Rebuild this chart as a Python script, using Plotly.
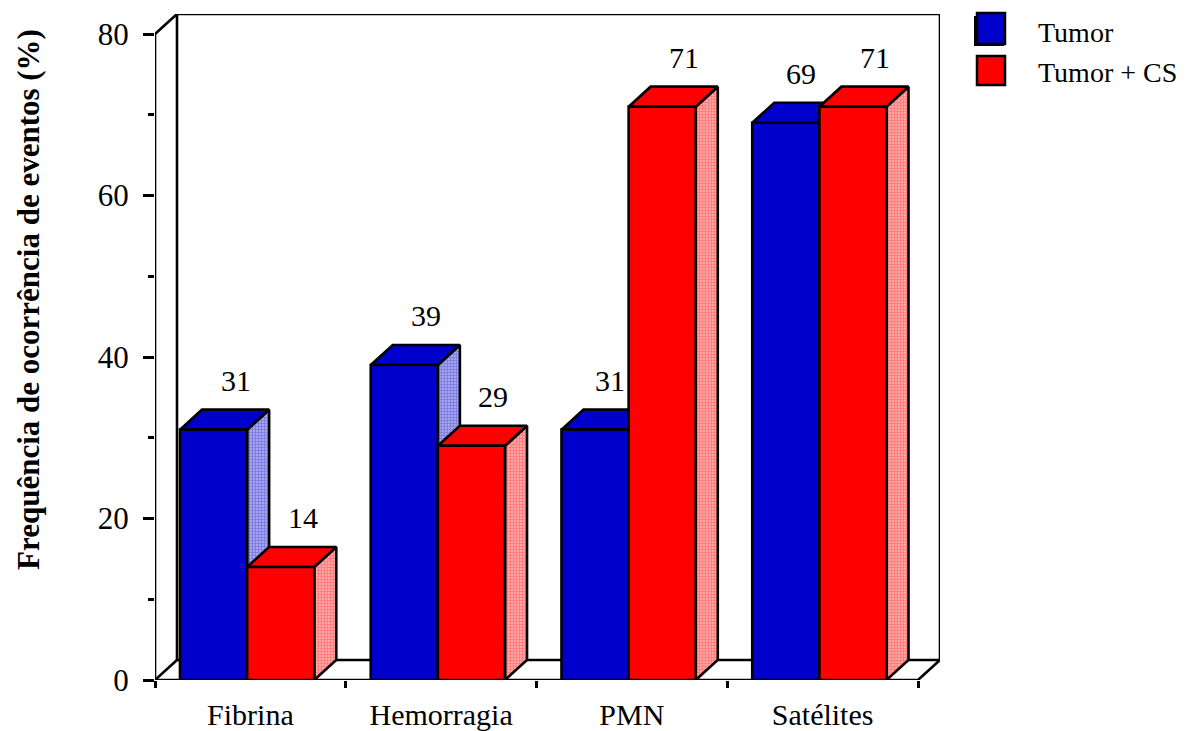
import plotly.graph_objects as go

# ---- data -------------------------------------------------------------
categories = ["Fibrina", "Hemorragia", "PMN", "Satélites"]
tumor = [31, 39, 31, 69]
tumor_cs = [14, 29, 71, 71]
series_names = ["Tumor", "Tumor + CS"]
y_ticks = [0, 20, 40, 60, 80]
y_minor_ticks = [10, 30, 50, 70]
y_title = "Frequência de ocorrência de eventos (%)"

# ---- styling / geometry ----------------------------------------------
FONT = "Liberation Serif, Times New Roman, serif"
BLUE = "#0000CC"
RED = "#FF0000"
EDGE = 2.6

W, H = 1191, 731
M_LEFT, M_RIGHT, M_TOP, M_BOTTOM = 155, 251, 14, 51
PLOT_W = W - M_LEFT - M_RIGHT
PLOT_H = H - M_TOP - M_BOTTOM
DEPTH_PX_X, DEPTH_PX_Y = 22, 20          # oblique projection of the depth axis
Y_MAX = 80
n_cat = len(categories)

px_per_y = (PLOT_H - DEPTH_PX_Y) / Y_MAX
px_per_cat = (PLOT_W - DEPTH_PX_X) / n_cat
DX = DEPTH_PX_X / px_per_cat             # depth offset in x data units
DY = DEPTH_PX_Y / px_per_y               # depth offset in y data units

BAR_W = 0.352                            # bar width, category units
GROUP_OFF = 0.131                        # left gap before the first bar of a group


def px_to_paper_x(px):
    return (px - M_LEFT) / PLOT_W


def px_to_paper_y(py):
    return (H - M_BOTTOM - py) / PLOT_H


fig = go.Figure()


def poly(xs, ys, **kw):
    fig.add_trace(go.Scatter(
        x=xs, y=ys, mode="lines", showlegend=False, hoverinfo="skip",
        cliponaxis=False, **kw))


# ---- frame: left wall edge, back wall and floor ----------------------
wall = dict(color="black", width=EDGE)
top = Y_MAX + DY
right = n_cat + DX
poly([0, 0, DX, right, right], [0, Y_MAX, top, top, DY], line=wall)   # axis + back wall top
poly([DX, DX, right], [top, DY, DY], line=wall)                          # back wall left + floor back
poly([0, DX], [0, DY], line=wall)                                        # floor left edge
poly([0, n_cat, right], [0, 0, DY], line=wall)                           # floor front + right edge


# ---- 3-D boxes ---------------------------------------------------------
def add_box(x0, v, color):
    x1 = x0 + BAR_W
    # right side face (halftone)
    poly([x1, x1 + DX, x1 + DX, x1, x1], [0, DY, v + DY, v, 0],
         fill="toself", fillcolor="white",
         fillpattern=dict(shape=".", fgcolor=color, bgcolor="white",
                          size=3, solidity=0.8),
         line=dict(color="black", width=EDGE))
    # top face
    poly([x0, x0 + DX, x1 + DX, x1, x0], [v, v + DY, v + DY, v, v],
         fill="toself", fillcolor=color, line=dict(color="black", width=EDGE))
    # front face
    poly([x0, x0, x1, x1, x0], [0, v, v, 0, 0],
         fill="toself", fillcolor=color, line=dict(color="black", width=EDGE))


annotations = []
for i in range(n_cat):
    for k, (vals, color) in enumerate(((tumor, BLUE), (tumor_cs, RED))):
        x0 = i + GROUP_OFF + k * BAR_W
        v = vals[i]
        add_box(x0, v, color)
        # nudge a front label left when the bar beside it is taller
        nudge = -7 if (k == 0 and tumor_cs[i] > v) else 0
        annotations.append(dict(
            x=x0 + BAR_W / 2 + DX, y=v + DY, xref="x", yref="y",
            text=str(v), showarrow=False, yanchor="bottom", yshift=11,
            xshift=nudge,
            font=dict(family=FONT, size=30, color="black")))

# ---- legend ------------------------------------------------------------
legend_rows = [(BLUE, 13, 44, 33), (RED, 56, 85, 72)]
shapes = []
for (color, y0, y1, yc), name in zip(legend_rows, series_names):
    if color == BLUE:
        shapes.append(dict(type="rect", xref="paper", yref="paper",
                           x0=px_to_paper_x(974), x1=px_to_paper_x(1004),
                           y0=px_to_paper_y(y0 + 3), y1=px_to_paper_y(y1 + 2),
                           fillcolor="black", line=dict(width=0)))
    shapes.append(dict(type="rect", xref="paper", yref="paper",
                       x0=px_to_paper_x(977), x1=px_to_paper_x(1005),
                       y0=px_to_paper_y(y0), y1=px_to_paper_y(y1),
                       fillcolor=color, line=dict(color="black", width=2.5)))
    annotations.append(dict(
        x=px_to_paper_x(1036), y=px_to_paper_y(yc), xref="paper", yref="paper",
        text=name, showarrow=False, xanchor="left", yanchor="middle",
        font=dict(family=FONT, size=28, color="black")))

# ---- y-axis title --------------------------------------------------------
annotations.append(dict(
    x=px_to_paper_x(28), y=px_to_paper_y(300), xref="paper", yref="paper",
    text=f"<b>{y_title}</b>", textangle=-90, showarrow=False,
    xanchor="center", yanchor="middle",
    font=dict(family=FONT, size=31, color="black")))

fig.update_layout(
    width=W, height=H,
    margin=dict(l=M_LEFT, r=M_RIGHT, t=M_TOP, b=M_BOTTOM, pad=0),
    paper_bgcolor="white", plot_bgcolor="white",
    showlegend=False,
    shapes=shapes,
    annotations=annotations,
    xaxis=dict(
        range=[0, right], showgrid=False, zeroline=False, showline=False,
        automargin=False,
        tickmode="array", tickvals=[i + 0.5 for i in range(n_cat)],
        ticktext=categories, ticks="", ticklabelstandoff=14,
        tickfont=dict(family=FONT, size=30, color="black"),
        minor=dict(tickmode="array", tickvals=list(range(n_cat + 1)),
                   ticks="outside", ticklen=7, tickwidth=EDGE,
                   tickcolor="black", showgrid=False),
        fixedrange=True),
    yaxis=dict(
        range=[0, top], showgrid=False, zeroline=False, showline=False,
        automargin=False,
        tickmode="array", tickvals=y_ticks, ticks="outside",
        ticklen=11, tickwidth=EDGE, tickcolor="black", ticklabelstandoff=8,
        tickfont=dict(family=FONT, size=31, color="black"),
        minor=dict(tickmode="array", tickvals=y_minor_ticks,
                   ticks="outside", ticklen=6, tickwidth=EDGE,
                   tickcolor="black", showgrid=False),
        fixedrange=True),
)

fig.write_html("out.html")
